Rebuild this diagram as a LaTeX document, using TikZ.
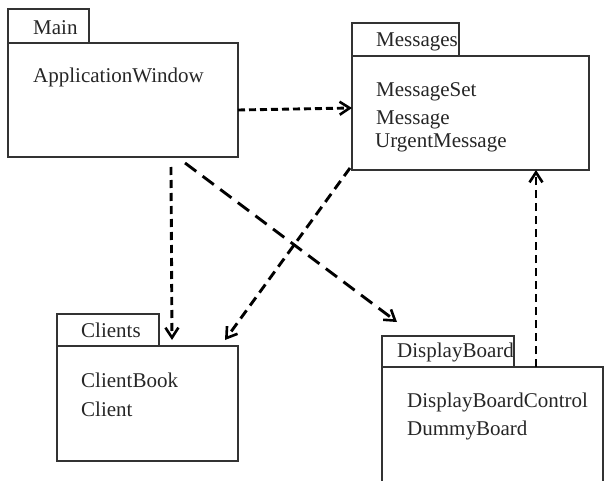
\documentclass[tikz,border=0pt]{standalone}
\usepackage{fontspec}
\setmainfont{Liberation Serif}
\usetikzlibrary{arrows.meta,calc}
\begin{document}
\begin{tikzpicture}[x=1pt,y=-1pt,
  box/.style={draw=black!80,line width=1.2pt,inner sep=0pt,outer sep=0pt,anchor=north west},
  txt/.style={anchor=base west,inner sep=0pt,font=\fontsize{21}{25}\selectfont,text=black!85},
  dep/.style={line width=2.9pt,dash pattern=on 8pt off 5pt,-{Straight Barb[length=10pt,width=13pt,line width=2.6pt]}},
  depshort/.style={dep,dash pattern=on 7pt off 4pt},
  depmid/.style={dep,dash pattern=on 10pt off 6pt},
  deplong/.style={dep,dash pattern=on 14pt off 8pt}]
\useasboundingbox (0,0) rectangle (604,481);
% Main
\node[box,minimum width=81pt,minimum height=34pt] (maintab) at (8,9) {};
\node[box,minimum width=230pt,minimum height=114pt] (main) at (8,43) {};
\node[txt] (maint) at (33,35) {Main};
\node[txt] (aw) at (33,83) {ApplicationWindow};
% Messages
\node[box,minimum width=107pt,minimum height=33pt] (msgtab) at (352,23) {};
\node[box,minimum width=237pt,minimum height=114pt] (msg) at (352,56) {};
\node[txt] (msgt) at (376,47) {Messages};
\node[txt] (ms) at (376,97) {MessageSet};
\node[txt] (m) at (376,125) {Message};
\node[txt] (um) at (375,148) {UrgentMessage};
% Clients
\node[box,minimum width=102pt,minimum height=32pt] (clitab) at (57,314) {};
\node[box,minimum width=181pt,minimum height=115pt] (cli) at (57,346) {};
\node[txt] (clit) at (81,337) {Clients};
\node[txt] (cb) at (81,387) {ClientBook};
\node[txt] (c) at (81,416) {Client};
% DisplayBoard
\node[box,minimum width=132pt,minimum height=31pt] (dbtab) at (382,336) {};
\node[box,minimum width=221pt,minimum height=120pt] (db) at (382,367) {};
\node[txt] (dbt) at (397,357) {DisplayBoard};
\node[txt] (dbc) at (407,407) {DisplayBoardControl};
\node[txt] (dmb) at (407,435) {DummyBoard};
% Dependencies
\draw[depshort] ([shift={(0,67)}]main.north east) -- ([shift={(0,52)}]msg.north west);
\draw[dep] ([shift={(163,10)}]main.south west) -- ([shift={(115,-6)}]cli.north west);
\draw[deplong] ([shift={(177,6)}]main.south west) -- ([shift={(15,-14)}]dbtab.north west);
\draw[depmid] ([shift={(-2,-2)}]msg.south west) -- ([shift={(168,-6)}]cli.north west);
\draw[dep] ([shift={(154,0)}]db.north west) -- ([shift={(184,0)}]msg.south west);
\end{tikzpicture}
\end{document}
